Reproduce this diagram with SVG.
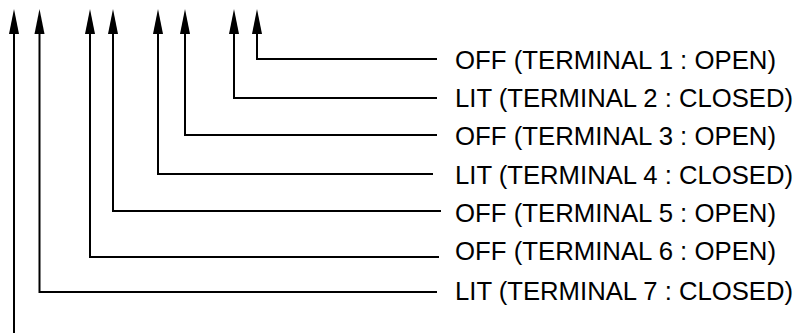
<svg xmlns="http://www.w3.org/2000/svg" width="800" height="333" viewBox="0 0 800 333">
<defs>
<style>
.c{fill:none;stroke:#000;stroke-width:2;}
.h{fill:#000;}
.t{font-family:"Liberation Sans",Arial,sans-serif;font-size:25px;fill:#000;}
</style>
</defs>
<rect width="800" height="333" fill="#fff"/>
<g id="connectors">
<path class="c" d="M14,333 V34"/>
<path class="h" d="M9,34 L14,9 L19,34 Z"/>
<path class="c" d="M437,292 H39.5 V34"/>
<path class="h" d="M34.5,34 L39.5,9 L44.5,34 Z"/>
<path class="c" d="M439,257 H90 V34"/>
<path class="h" d="M85,34 L90,9 L95,34 Z"/>
<path class="c" d="M441,211 H113 V34"/>
<path class="h" d="M108,34 L113,9 L118,34 Z"/>
<path class="c" d="M433,174 H158 V34"/>
<path class="h" d="M153,34 L158,9 L163,34 Z"/>
<path class="c" d="M437,135 H185 V34"/>
<path class="h" d="M180,34 L185,9 L190,34 Z"/>
<path class="c" d="M437,98 H234 V34"/>
<path class="h" d="M229,34 L234,9 L239,34 Z"/>
<path class="c" d="M437,59 H257 V34"/>
<path class="h" d="M252,34 L257,9 L262,34 Z"/>
</g>
<g id="t1"><text class="t" x="455" y="69" textLength="321" lengthAdjust="spacingAndGlyphs">OFF (TERMINAL 1 : OPEN)</text></g>
<g id="t2"><text class="t" x="455" y="107" textLength="338" lengthAdjust="spacingAndGlyphs">LIT (TERMINAL 2 : CLOSED)</text></g>
<g id="t3"><text class="t" x="455" y="145" textLength="321" lengthAdjust="spacingAndGlyphs">OFF (TERMINAL 3 : OPEN)</text></g>
<g id="t4"><text class="t" x="455" y="184" textLength="338" lengthAdjust="spacingAndGlyphs">LIT (TERMINAL 4 : CLOSED)</text></g>
<g id="t5"><text class="t" x="455" y="222" textLength="321" lengthAdjust="spacingAndGlyphs">OFF (TERMINAL 5 : OPEN)</text></g>
<g id="t6"><text class="t" x="455" y="260" textLength="321" lengthAdjust="spacingAndGlyphs">OFF (TERMINAL 6 : OPEN)</text></g>
<g id="t7"><text class="t" x="455" y="300" textLength="338" lengthAdjust="spacingAndGlyphs">LIT (TERMINAL 7 : CLOSED)</text></g>
</svg>
